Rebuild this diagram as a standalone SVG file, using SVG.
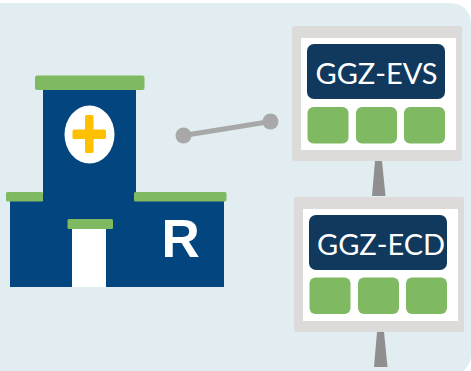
<svg xmlns="http://www.w3.org/2000/svg" width="471" height="371" viewBox="0 0 471 371">
<style>
.navy{fill:#03457f}.green{fill:#7fb961}.gray{fill:#dcdbda}.stem{fill:#8f8f8f}.dark{fill:#10395d}
.t{font-family:Lato,"Open Sans",sans-serif;font-size:29px;fill:#fff}
.dot{fill:#a8a8a8}
</style>
<rect width="471" height="371" fill="#fff"/>
<rect x="-30" y="3" width="501" height="372" rx="20" fill="#e2edf2"/>
<g id="hospital">
<rect class="navy" x="43" y="90" width="93" height="115"/>
<rect class="navy" x="10" y="201" width="214" height="86"/>
<rect class="green" x="35" y="75.500" width="109.500" height="14.500" rx="2"/>
<rect class="green" x="6" y="192" width="37" height="9.500" rx="1.500"/>
<rect class="green" x="134" y="192" width="92.500" height="9.500" rx="1.500"/>
<rect x="72" y="229" width="34" height="58" fill="#fff"/>
<rect class="green" x="67.500" y="219" width="45.500" height="10" rx="1.500"/>
<ellipse cx="89.500" cy="134.500" rx="25" ry="29" fill="#fff"/>
<rect x="85" y="115" width="8.500" height="38" rx="1.500" fill="#ffc000"/>
<rect x="72.500" y="129.500" width="33.500" height="9.500" rx="1.500" fill="#ffc000"/>
<text x="161.500" y="257" font-family="Liberation Sans,Arial,sans-serif" font-weight="700" font-size="53" fill="#fff">R</text>
</g>
<g id="connectors">
<line x1="183.500" y1="135.500" x2="270.500" y2="121.500" stroke="#a8a8a8" stroke-width="5"/>
<circle class="dot" cx="183.500" cy="135.500" r="8"/>
<circle class="dot" cx="270.500" cy="121.500" r="8"/>
<polygon class="stem" points="375,161 382,161 385.500,196 372,196"/>
<polygon class="stem" points="377,332 384,332 387.500,367 374,367"/>
</g>
<g id="ggz-evs">
<rect class="gray" x="292" y="26" width="170" height="135" rx="2"/>
<rect x="301" y="38" width="155" height="112" fill="#fff"/>
<rect class="dark" x="307" y="44" width="138" height="55" rx="7"/>
<text class="t" x="315.500" y="84">GGZ-EVS</text>
<rect class="green" x="307.500" y="107" width="41" height="36.500" rx="6"/>
<rect class="green" x="356" y="107" width="41" height="36.500" rx="6"/>
<rect class="green" x="404" y="107" width="41" height="36.500" rx="6"/>
</g>
<g id="ggz-ecd">
<rect class="gray" x="294" y="197" width="170" height="135" rx="2"/>
<rect x="303" y="209" width="155" height="112" fill="#fff"/>
<rect class="dark" x="309" y="215" width="138" height="55" rx="7"/>
<text class="t" x="317" y="255">GGZ-ECD</text>
<rect class="green" x="309.500" y="277.500" width="41" height="36.500" rx="6"/>
<rect class="green" x="358" y="277.500" width="41" height="36.500" rx="6"/>
<rect class="green" x="406" y="277.500" width="41" height="36.500" rx="6"/>
</g>
</svg>
